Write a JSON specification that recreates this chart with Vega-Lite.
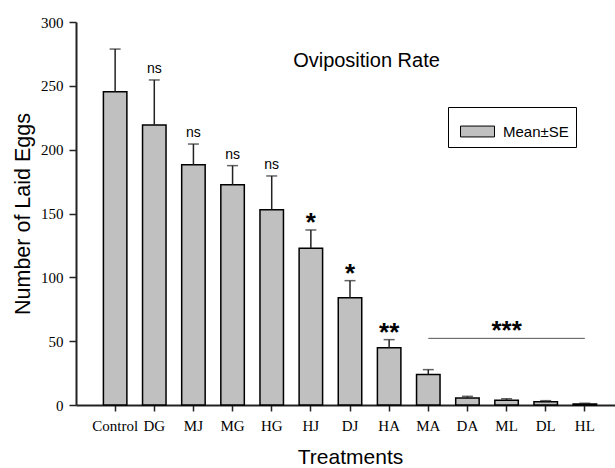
{
  "$schema": "https://vega.github.io/schema/vega-lite/v6.json",
  "width": 539,
  "height": 383,
  "autosize": {"type": "none"},
  "padding": {"left": 76, "top": 22, "right": 0, "bottom": 63},
  "background": "white",
  "config": {
    "view": {"stroke": null},
    "text": {"font": "Liberation Sans"},
    "legend": {"labelFont": "Liberation Sans"}
  },
  "title": {
    "text": "Oviposition Rate",
    "font": "Liberation Sans",
    "fontSize": 20,
    "fontWeight": "normal",
    "color": "black",
    "anchor": "middle",
    "frame": "group",
    "orient": "top",
    "offset": 0,
    "baseline": "alphabetic",
    "dx": 21,
    "dy": 71.5
  },
  "datasets": {
    "eggs": [
      {"treatment": "Control", "mean": 245.3, "upper": 278.8, "sig": ""},
      {"treatment": "DG", "mean": 219.3, "upper": 254.6, "sig": "ns"},
      {"treatment": "MJ", "mean": 188.2, "upper": 204.4, "sig": "ns"},
      {"treatment": "MG", "mean": 172.6, "upper": 187.5, "sig": "ns"},
      {"treatment": "HG", "mean": 153.0, "upper": 179.4, "sig": "ns"},
      {"treatment": "HJ", "mean": 122.7, "upper": 137.1, "sig": "*"},
      {"treatment": "DJ", "mean": 84.0, "upper": 97.4, "sig": "*"},
      {"treatment": "HA", "mean": 44.9, "upper": 51.2, "sig": "**"},
      {"treatment": "MA", "mean": 23.8, "upper": 27.7, "sig": ""},
      {"treatment": "DA", "mean": 5.5, "upper": 6.8, "sig": ""},
      {"treatment": "ML", "mean": 3.7, "upper": 4.9, "sig": ""},
      {"treatment": "DL", "mean": 2.6, "upper": 3.4, "sig": ""},
      {"treatment": "HL", "mean": 0.8, "upper": 1.3, "sig": ""}
    ],
    "group": [
      {"from": "MA", "to": "HL", "mid": "ML", "level": 52.2, "label": "***"}
    ]
  },
  "encoding": {
    "x": {
      "field": "treatment",
      "type": "nominal",
      "sort": null,
      "scale": {
        "type": "band",
        "domain": ["Control", "DG", "MJ", "MG", "HG", "HJ", "DJ", "HA", "MA", "DA", "ML", "DL", "HL"],
        "range": [0, 548],
        "paddingInner": 0.4,
        "paddingOuter": 0.7
      },
      "axis": {
        "title": "Treatments",
        "titleFont": "Liberation Sans",
        "titleFontSize": 21,
        "titleFontWeight": "normal",
        "titleColor": "black",
        "titlePadding": 13,
        "labelFont": "Liberation Serif",
        "labelFontSize": 15,
        "labelColor": "black",
        "labelAngle": 0,
        "labelPadding": 7,
        "tickSize": 6,
        "tickWidth": 1.5,
        "tickColor": "#222",
        "domainColor": "#222",
        "domainWidth": 2,
        "grid": false
      }
    }
  },
  "layer": [
    {
      "data": {"name": "eggs"},
      "mark": {"type": "bar", "stroke": "black", "strokeWidth": 1.5},
      "encoding": {
        "y": {
          "field": "mean",
          "type": "quantitative",
          "scale": {"domain": [0, 300], "nice": false},
          "axis": {
            "title": "Number of Laid Eggs",
            "titleFont": "Liberation Sans",
            "titleFontSize": 21.5,
            "titleFontWeight": "normal",
            "titleColor": "black",
            "titlePadding": 6,
            "values": [0, 50, 100, 150, 200, 250, 300],
            "labelFont": "Liberation Serif",
            "labelFontSize": 15,
            "labelColor": "black",
            "labelPadding": 6,
            "tickSize": 7,
            "tickWidth": 1.5,
            "tickColor": "#222",
            "domainColor": "#222",
            "domainWidth": 2,
            "grid": false
          }
        },
        "fill": {
          "datum": "Mean±SE",
          "type": "nominal",
          "scale": {"range": ["#c0c0c0"]},
          "legend": {
            "title": null,
            "orient": "none",
            "legendX": 372,
            "legendY": 85,
            "strokeColor": "black",
            "fillColor": "white",
            "padding": 7,
            "symbolOffset": 5,
            "symbolType": "M-1,-0.32H1V0.32H-1Z",
            "symbolSize": 1156,
            "symbolStrokeColor": "black",
            "symbolStrokeWidth": 1,
            "symbolFillColor": "#c0c0c0",
            "labelFontSize": 15,
            "labelColor": "black",
            "labelOffset": 8
          }
        }
      }
    },
    {
      "data": {"name": "eggs"},
      "mark": {"type": "rule", "color": "#222", "strokeWidth": 1.5},
      "encoding": {
        "y": {"field": "mean", "type": "quantitative"},
        "y2": {"field": "upper"}
      }
    },
    {
      "data": {"name": "eggs"},
      "mark": {"type": "tick", "orient": "horizontal", "color": "#222", "size": 11, "thickness": 1.5},
      "encoding": {
        "y": {"field": "upper", "type": "quantitative"}
      }
    },
    {
      "data": {"name": "eggs"},
      "transform": [{"filter": "datum.sig === 'ns'"}],
      "mark": {"type": "text", "fontSize": 14, "baseline": "alphabetic", "dy": -7, "color": "black"},
      "encoding": {
        "y": {"field": "upper", "type": "quantitative"},
        "text": {"field": "sig"}
      }
    },
    {
      "data": {"name": "eggs"},
      "transform": [{"filter": "datum.sig === '*' || datum.sig === '**'"}],
      "mark": {"type": "text", "fontSize": 26, "fontWeight": "bold", "baseline": "alphabetic", "dy": 1, "color": "black"},
      "encoding": {
        "y": {"field": "upper", "type": "quantitative"},
        "text": {"field": "sig"}
      }
    },
    {
      "data": {"name": "group"},
      "mark": {"type": "rule", "color": "#555", "strokeWidth": 1},
      "encoding": {
        "x": {"field": "from", "type": "nominal"},
        "x2": {"field": "to"},
        "y": {"field": "level", "type": "quantitative"}
      }
    },
    {
      "data": {"name": "group"},
      "mark": {"type": "text", "fontSize": 26, "fontWeight": "bold", "baseline": "alphabetic", "dy": 1, "color": "black"},
      "encoding": {
        "x": {"field": "mid", "type": "nominal"},
        "y": {"field": "level", "type": "quantitative"},
        "text": {"field": "label"}
      }
    },
    {
      "mark": {"type": "rule", "color": "#333", "strokeWidth": 2},
      "encoding": {"y": {"datum": 300}}
    }
  ]
}
